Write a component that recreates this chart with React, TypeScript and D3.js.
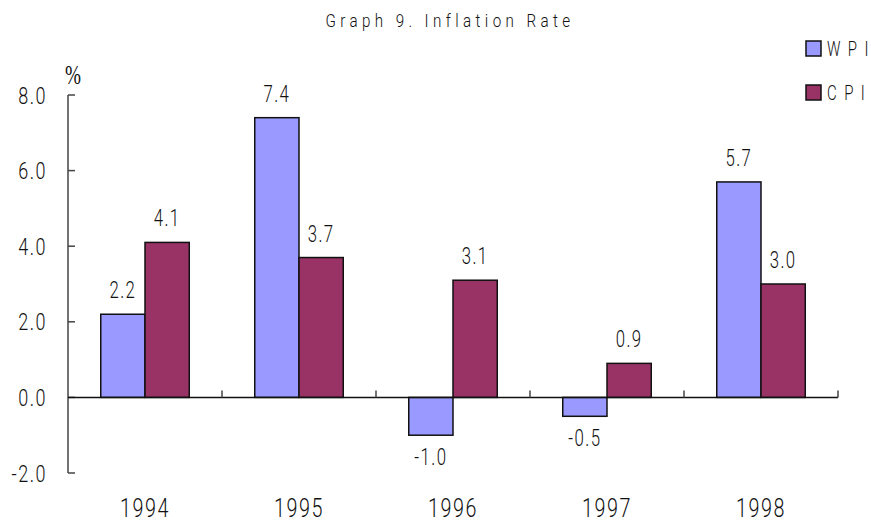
import React from 'react'
import * as d3 from 'd3'

// data
const years = ['1994', '1995', '1996', '1997', '1998']
const wpi = [2.2, 7.4, -1.0, -0.5, 5.7]
const cpi = [4.1, 3.7, 3.1, 0.9, 3.0]
const seriesNames = ['WPI', 'CPI']
const seriesLabels = ['W P I', 'C P I']
const yTicks = [-2, 0, 2, 4, 6, 8]

const WIDTH = 871
const HEIGHT = 523
const colors = ['#9999FF', '#993366']
const font = "Roboto, 'DejaVu Sans Condensed', sans-serif"
const axisColor = '#444'

// condensed text: the reference uses a tall, narrow face
const NText = ({ x, y, sx = 0.75, size, ls = 0, anchor = 'start', children }: any) => (
  <text
    transform={`translate(${x},${y}) scale(${sx},1)`}
    textAnchor={anchor}
    fontFamily={font}
    fontWeight={300}
    fontSize={size}
    letterSpacing={ls}
    fill="#111"
  >
    {children}
  </text>
)

export default function App() {
  const x = d3.scaleBand<string>().domain(years).range([68, 838]).paddingInner(0).paddingOuter(0)
  const y = d3.scaleLinear().domain([-2, 8]).range([473, 95])
  const xs = d3
    .scaleBand<string>()
    .domain(seriesNames)
    .range([0, x.bandwidth()])
    .paddingInner(0)
    .paddingOuter(0.74)

  const series = [wpi, cpi]
  const fmt = (v: number) => v.toFixed(1)

  return (
    <svg
      width={WIDTH}
      height={HEIGHT}
      style={{ position: 'absolute', left: 0, top: 0, background: '#fff' }}
    >
      {/* title */}
      <NText x={450} y={27} size={19} ls={5.5} sx={0.8} anchor="middle">
        Graph 9. Inflation Rate
      </NText>

      {/* unit */}
      <text
        x={65}
        y={84}
        fontFamily="'Liberation Serif', 'DejaVu Serif', serif"
        fontSize={28}
        textLength={16}
        lengthAdjust="spacingAndGlyphs"
        fill="#111"
      >
        %
      </text>

      {/* bars */}
      {series.map((vals, si) =>
        vals.map((v, i) => {
          const x0 = (x(years[i]) ?? 0) + (xs(seriesNames[si]) ?? 0)
          const top = y(Math.max(0, v))
          const h = Math.abs(y(v) - y(0))
          return (
            <rect
              key={`b-${si}-${i}`}
              x={x0}
              y={top}
              width={xs.bandwidth()}
              height={h}
              fill={colors[si]}
              stroke="#111"
              strokeWidth={1.5}
            />
          )
        })
      )}

      {/* value labels */}
      {series.map((vals, si) =>
        vals.map((v, i) => {
          const cx = (x(years[i]) ?? 0) + (xs(seriesNames[si]) ?? 0) + xs.bandwidth() / 2
          const ty = v >= 0 ? y(v) - 16 : y(v) + 30
          return (
            <NText key={`l-${si}-${i}`} x={cx} y={ty} size={24} ls={2} sx={0.7} anchor="middle">
              {fmt(v)}
            </NText>
          )
        })
      )}

      {/* y axis */}
      <line x1={68} x2={68} y1={y(8)} y2={y(-2)} stroke={axisColor} strokeWidth={1.5} />
      {yTicks.map((t) => (
        <g key={`yt-${t}`}>
          <line x1={68} x2={75} y1={y(t)} y2={y(t)} stroke={axisColor} strokeWidth={1.5} />
          <NText x={47} y={y(t) + 8.5} size={24} ls={2} sx={0.75} anchor="end">
            {fmt(t)}
          </NText>
        </g>
      ))}

      {/* category axis along zero */}
      <line x1={68} x2={838} y1={y(0)} y2={y(0)} stroke="#111" strokeWidth={1.5} />
      {years.map((yr) => {
        const edge = (x(yr) ?? 0) + x.bandwidth()
        return (
          <line
            key={`xt-${yr}`}
            x1={edge}
            x2={edge}
            y1={y(0)}
            y2={y(0) - 7}
            stroke={axisColor}
            strokeWidth={1.5}
          />
        )
      })}
      {years.map((yr) => (
        <NText
          key={`xl-${yr}`}
          x={(x(yr) ?? 0) + x.bandwidth() / 2}
          y={517}
          size={26}
          ls={2}
          sx={0.76}
          anchor="middle"
        >
          {yr}
        </NText>
      ))}

      {/* legend */}
      {seriesLabels.map((s, i) => (
        <g key={`lg-${s}`} transform={`translate(806, ${41 + i * 44})`}>
          <rect width={15} height={15} fill={colors[i]} stroke="#111" strokeWidth={1.5} />
          <NText x={21} y={15} size={20} ls={2.5} sx={0.75}>
            {s}
          </NText>
        </g>
      ))}
    </svg>
  )
}
